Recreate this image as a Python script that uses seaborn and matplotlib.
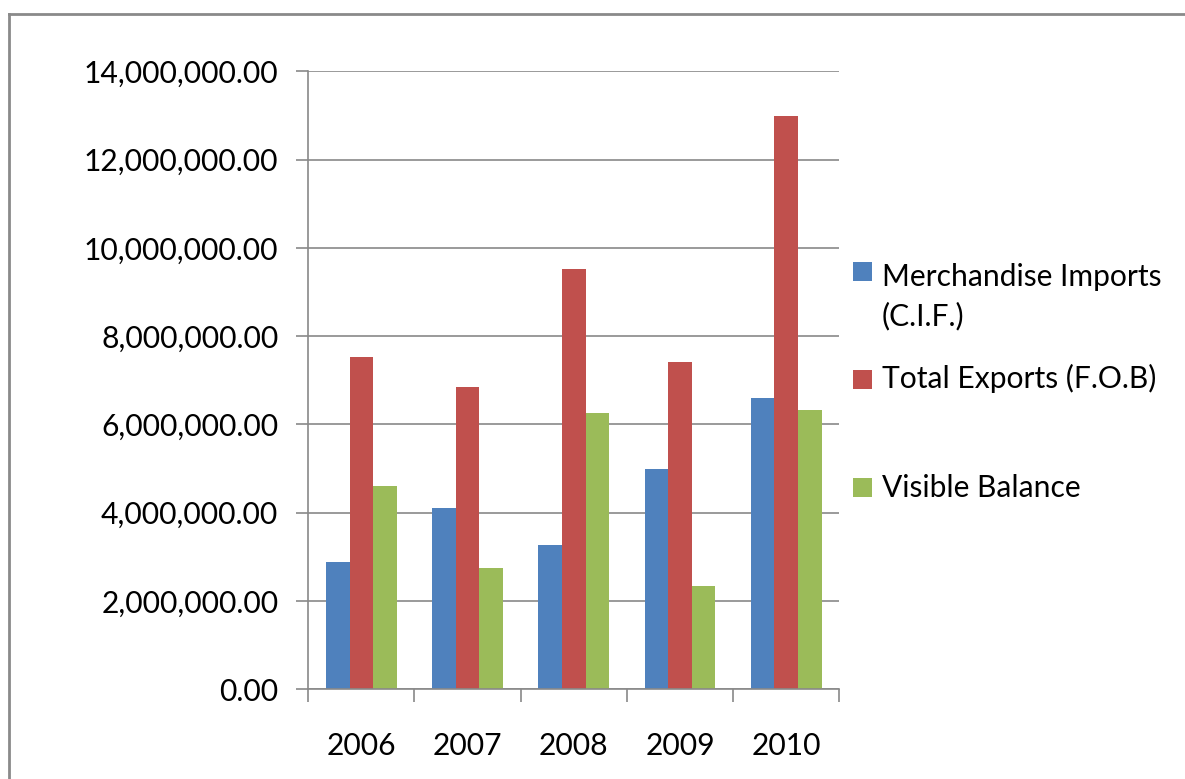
import numpy as np
import pandas as pd
import matplotlib
matplotlib.use("Agg")
import matplotlib.pyplot as plt
import seaborn as sns
from matplotlib.ticker import FuncFormatter, MultipleLocator, FixedLocator
from matplotlib.patches import Rectangle
from matplotlib.lines import Line2D

# Trade figures per year
years = ["2006", "2007", "2008", "2009", "2010"]
series = ["Merchandise Imports (C.I.F.)", "Total Exports (F.O.B)", "Visible Balance"]
legend_labels = ["Merchandise Imports\n(C.I.F.)", "Total Exports (F.O.B)", "Visible Balance"]
imports = [2890000, 4100000, 3280000, 5000000, 6610000]
exports = [7535000, 6840000, 9530000, 7420000, 12990000]
balance = [4610000, 2740000, 6250000, 2350000, 6330000]
colors = ["#4F81BD", "#C0504D", "#9BBB59"]

df = pd.DataFrame({
    "Year": years * 3,
    "Series": [s for s in series for _ in years],
    "Value": imports + exports + balance,
})

sns.set_theme(style="white")
plt.rcParams["font.family"] = ["Lato", "DejaVu Sans"]

W, H = 1185, 779
grid_c = "#898989"
fs = 21.6

fig = plt.figure(figsize=(W / 100, H / 100), dpi=100)
fig.patch.set_facecolor("white")
ax = fig.add_axes([308.2 / W, 1 - 689.3 / H, (839.3 - 308.2) / W, (689.3 - 71.3) / H])

sns.barplot(data=df, x="Year", y="Value", hue="Series", order=years,
            hue_order=series, palette=colors, width=3 / 4.5, gap=0,
            saturation=1, linewidth=0, edgecolor="none", errorbar=None,
            legend=False, ax=ax)

ax.set_xlim(-0.5, 4.5)
ax.set_ylim(0, 14e6)
ax.set_xlabel("")
ax.set_ylabel("")
ax.yaxis.set_major_locator(MultipleLocator(2e6))
ax.yaxis.set_major_formatter(FuncFormatter(lambda v, p: f"{v:,.2f}"))
ax.grid(axis="y", color=grid_c, lw=1.2)
ax.set_axisbelow(True)

for side in ["top", "right"]:
    ax.spines[side].set_visible(False)
for side in ["left", "bottom"]:
    ax.spines[side].set_color(grid_c)
    ax.spines[side].set_linewidth(1.2)

ax.tick_params(axis="y", left=True, length=8.5, width=1.2, color=grid_c,
               pad=13, labelsize=fs, labelcolor="black")
ax.tick_params(axis="x", which="major", bottom=True, length=0, pad=31,
               labelsize=fs, labelcolor="black")
ax.xaxis.set_minor_locator(FixedLocator(np.arange(-0.5, 5.0, 1.0)))
ax.tick_params(axis="x", which="minor", bottom=True, length=9, width=1.2,
               color=grid_c)

# Legend on the right; the text anchor is the baseline of each entry's last line
sq = 19
sq_tops = [261.7, 370.0, 478.0]
baselines = [325.0, 388.3, 497.3]
for lab, c, top, base in zip(legend_labels, colors, sq_tops, baselines):
    fig.add_artist(Rectangle((853 / W, 1 - (top + sq) / H), sq / W, sq / H,
                             transform=fig.transFigure, facecolor=c,
                             edgecolor="none"))
    fig.text(882 / W, 1 - base / H, lab, fontsize=fs, color="black",
             va="baseline", ha="left", linespacing=1.45)

# Chart area border (left and top edges)
frame_c = "#8a8a8a"
fig.add_artist(Line2D([8.8 / W, 8.8 / W], [0, 1 - 13.5 / H], transform=fig.transFigure,
                      color=frame_c, lw=2.0, solid_capstyle="projecting"))
fig.add_artist(Line2D([8.8 / W, 1], [1 - 13.5 / H, 1 - 13.5 / H], transform=fig.transFigure,
                      color=frame_c, lw=2.0, solid_capstyle="projecting"))

fig.savefig("out.png", dpi=100, facecolor="white")
